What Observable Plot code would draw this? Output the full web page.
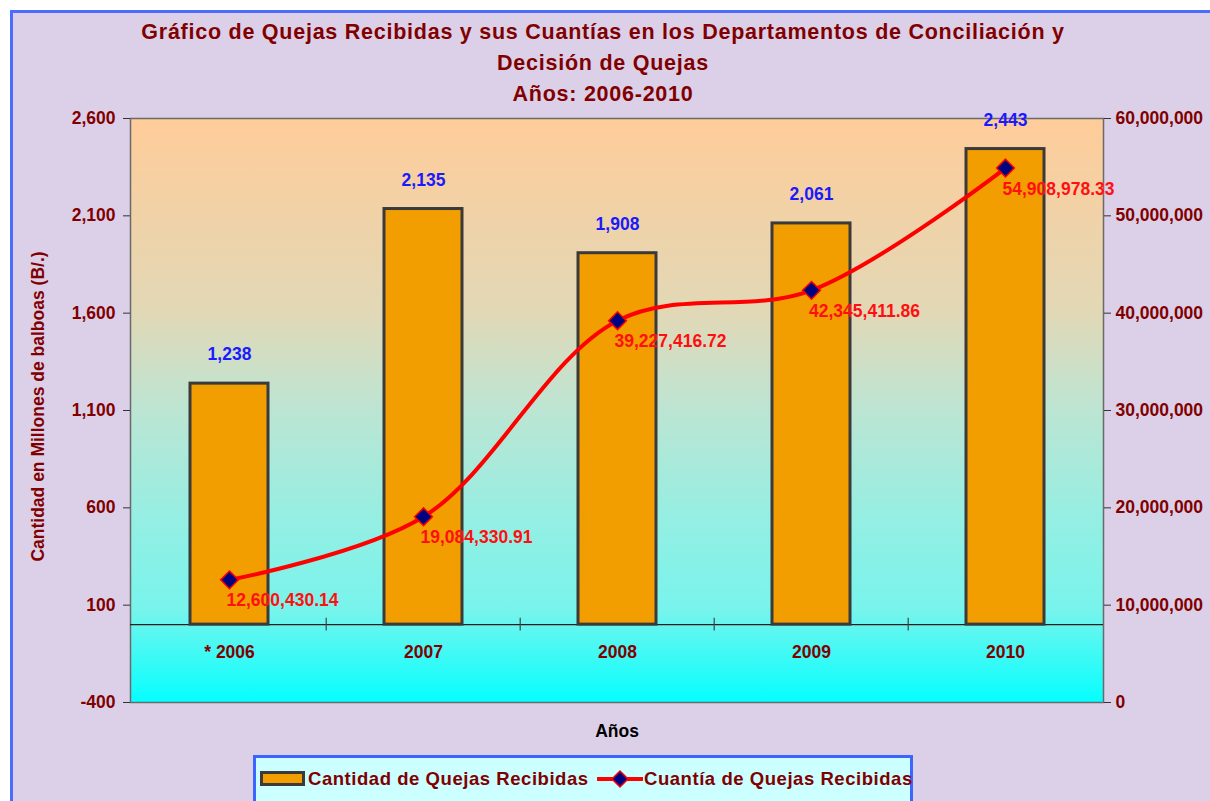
<!DOCTYPE html>
<html>
<head>
<meta charset="utf-8">
<script src="https://cdn.jsdelivr.net/npm/d3@7"></script>
<script src="https://cdn.jsdelivr.net/npm/@observablehq/plot@0.6"></script>
<style>
  html, body { margin: 0; padding: 0; width: 1210px; height: 801px; overflow: hidden; background: #ffffff; font-family: "Liberation Sans", Arial, sans-serif; }
  #panel { position: absolute; left: 10px; top: 10px; width: 1230px; height: 830px; background: #dccfe8; border-left: 3px solid #4a6cff; border-top: 3px solid #4a6cff; box-sizing: border-box; }
  #title { position: absolute; left: 0; top: 17px; width: 1206px; text-align: center; color: #800000; font-weight: bold; font-size: 21.5px; line-height: 31px; letter-spacing: 0.75px; }
  #chart { position: absolute; left: 0; top: 100px; }
  #legend { position: absolute; left: 253px; top: 755px; width: 660px; height: 60px; background: #ccffff; border: 3px solid #3c64ff; box-sizing: border-box; }
  .lg { position: absolute; top: 10px; color: #800000; font-weight: bold; font-size: 18.5px; letter-spacing: 0.55px; white-space: nowrap; }
</style>
</head>
<body>
<div id="panel"></div>
<div id="title">Gráfico de Quejas Recibidas y sus Cuantías en los Departamentos de Conciliación y<br>Decisión de Quejas<br>Años: 2006-2010</div>
<div id="chart"></div>
<div id="legend">
  <svg style="position:absolute;left:4px;top:13px" width="46" height="15"><rect x="1.5" y="1.5" width="42" height="12" fill="#f29d00" stroke="#3a3a3a" stroke-width="3"/></svg>
  <div class="lg" style="left:52px">Cantidad de Quejas Recibidas</div>
  <svg style="position:absolute;left:341px;top:9px" width="46" height="24"><line x1="0" y1="12" x2="46" y2="12" stroke="#ff0000" stroke-width="4"/><path d="M23,4 L31,12 L23,20 L15,12 Z" fill="#000080" stroke="#ff0000" stroke-width="1.5"/></svg>
  <div class="lg" style="left:388px">Cuantía de Quejas Recibidas</div>
</div>
<script>
// ---- data ----
const years = ["* 2006", "2007", "2008", "2009", "2010"];
const quejas = [1238, 2135, 1908, 2061, 2443];
const cuantias = [12600430.14, 19084330.91, 39227416.72, 42345411.86, 54908978.33];
const leftTicks = [-400, 100, 600, 1100, 1600, 2100, 2600];
const rightTicks = [0, 10000000, 20000000, 30000000, 40000000, 50000000, 60000000];

const data = years.map((y, i) => ({year: y, count: quejas[i], amount: cuantias[i]}));

// map right-axis values onto the left scale domain
const L0 = -400, L1 = 2600, R0 = 0, R1 = 60000000;
const toLeft = v => L0 + (v - R0) / (R1 - R0) * (L1 - L0);
const fromLeft = v => R0 + (v - L0) / (L1 - L0) * (R1 - R0);

const fmtInt = v => d3.format(",")(v).replace("\u2212", "-");
const fmtAmt = d3.format(",.2f");
const dark = "#800000";
const W = 1210, H = 650;
const mL = 130, mR = 107, mT = 18, mB = 48;
const step = (W - mL - mR) / years.length;
const fs = 17.5;

const chart = Plot.plot({
  width: W,
  height: H,
  marginLeft: mL,
  marginRight: mR,
  marginTop: mT,
  marginBottom: mB,
  style: {background: "transparent", fontFamily: "Liberation Sans, Arial, sans-serif", overflow: "visible"},
  x: {type: "band", domain: years, paddingInner: 0.6, paddingOuter: 0.3, axis: null},
  y: {domain: [L0, L1], axis: null},
  marks: [
    Plot.frame({fill: "url(#bgGrad)", stroke: "#6a6a6a", strokeWidth: 1.5}),
    Plot.ruleY([0], {stroke: "#1e1e1e", strokeWidth: 1.2}),
    Plot.ruleX(years.slice(1), {x: d => d, dx: -step / 2, y1: -33, y2: 33, stroke: "#444", strokeWidth: 1.2}),
    Plot.barY(data, {x: "year", y: "count", fill: "#f29d00", stroke: "#3a3a3a", strokeWidth: 3}),
    Plot.text(data, {x: "year", y: "count", text: d => fmtInt(d.count), dy: -29, fill: "#1a1aff", fontWeight: "bold", fontSize: fs, letterSpacing: 0.6}),
    Plot.line(data, {x: "year", y: d => toLeft(d.amount), stroke: "#ff0000", strokeWidth: 4, curve: "catmull-rom"}),
    Plot.dot(data, {x: "year", y: d => toLeft(d.amount), symbol: "diamond2", r: 8, fill: "#000080", stroke: "#ff0000", strokeWidth: 1.5}),
    Plot.text(data, {x: "year", y: d => toLeft(d.amount), text: d => fmtAmt(d.amount), dx: 53, dy: 21, fill: "#ff1010", fontWeight: "bold", fontSize: fs, letterSpacing: 1.0}),
    Plot.axisY(leftTicks, {anchor: "left", tickFormat: fmtInt, tickSize: 7, tickPadding: 8, fontSize: fs, fontWeight: "bold", fill: dark, stroke: "#333", label: null, letterSpacing: 0.7}),
    Plot.axisY(rightTicks.map(toLeft), {anchor: "right", tickFormat: d => fmtInt(Math.round(fromLeft(d))), tickSize: 7, tickPadding: 5, fontSize: fs, fontWeight: "bold", fill: dark, stroke: "#333", label: null, letterSpacing: 0.9}),
    Plot.text(years, {x: d => d, frameAnchor: "bottom", dy: -45, text: d => d, fill: dark, fontWeight: "bold", fontSize: fs, letterSpacing: 0.5}),
    Plot.text(["Años"], {frameAnchor: "bottom", dy: 34, text: d => d, fill: "#000000", fontWeight: "bold", fontSize: fs, letterSpacing: 0.5}),
    Plot.text(["Cantidad en Millones de balboas (B/.)"], {frameAnchor: "left", textAnchor: "middle", lineAnchor: "middle", dx: -92, dy: -4, rotate: -90, text: d => d, fill: dark, fontWeight: "bold", fontSize: fs, letterSpacing: 0.3})
  ]
});

// gradient background for the plotting area
const ns = "http://www.w3.org/2000/svg";
const defs = document.createElementNS(ns, "defs");
defs.innerHTML = `<linearGradient id="bgGrad" x1="0" y1="0" x2="0" y2="1">
  <stop offset="0" stop-color="#ffcc99"/>
  <stop offset="0.33" stop-color="#e2d8b6"/>
  <stop offset="0.5" stop-color="#bce5d3"/>
  <stop offset="0.7" stop-color="#92efe4"/>
  <stop offset="0.84" stop-color="#78f4ec"/>
  <stop offset="1" stop-color="#04ffff"/>
</linearGradient>`;
chart.insertBefore(defs, chart.firstChild);
document.getElementById("chart").appendChild(chart);
</script>
</body>
</html>
